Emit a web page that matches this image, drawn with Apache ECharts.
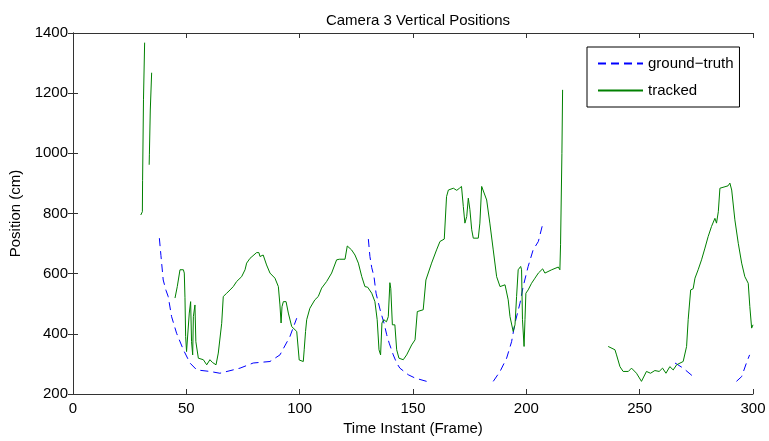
<!DOCTYPE html>
<html>
<head>
<meta charset="utf-8">
<title>Camera 3 Vertical Positions</title>
<script src="https://cdn.jsdelivr.net/npm/echarts@6/dist/echarts.min.js"></script>
<style>
  html, body { margin: 0; padding: 0; background: #fff; }
  #chart { width: 769px; height: 441px; }
</style>
</head>
<body>
<div id="chart"></div>
<script>
// x ticks / y ticks
const xTicks = [0, 50, 100, 150, 200, 250, 300];
const yTicks = [200, 400, 600, 800, 1000, 1200, 1400];

// ground-truth pieces [frame, position]
const gt1 = [[38.1,718],[38.8,660],[39.8,579],[41,545],[42,524],[43.5,457],[45.7,402],[48.7,347],[51.6,303],[54.6,280],[60.4,275],[64.8,269],[73.7,286],[79.5,303],[86.9,308],[91.3,330],[95.7,391],[98.7,452]];
const gt2 = [[130.3,715],[131,657],[131.8,620],[132.8,590],[133.7,535],[134.5,510],[135.7,474],[137.2,436],[138.4,397],[139.5,369],[141.3,330],[142.8,303],[144.2,286],[147.9,264],[150.9,253],[156,242]];
const gt3 = [[185.4,242],[188.4,275],[191.3,319],[193.5,374],[195,436],[197.2,502],[198.6,557],[200.8,624],[203,679],[205.3,707],[207.4,770]];
const gt4 = [[265.6,303],[269.2,286],[274.4,253]];
const gt5 = [[292.7,242],[295,258],[297.1,303],[298.5,330]];

// tracked pieces [frame, position]
const trk1 = [[29.9,795],[30.6,806],[30.7,909],[31.0,912],[31.1,1180],[31.5,1182],[31.6,1368]];
const trk2 = [[33.6,962],[33.7,995],[34.1,998],[34.1,1144],[34.6,1146],[34.7,1268]];
const trk3 = [[45,519],[46,557],[47.2,613],[48.7,613],[49.1,602],[49.4,520],[49.7,391],[50.1,341],[50.8,335],[51.3,469],[51.9,507],[52.3,374],[52.8,330],[53.1,457],[53.8,496],[54.2,374],[55.3,319],[57.5,314],[59,297],[60.4,314],[61.5,305],[63.1,297],[64.1,336],[65.6,435],[66.3,524],[67.8,535],[69.3,546],[70,540],[70.7,557],[72.2,574],[74.4,590],[75.9,613],[76.6,635],[78.1,651],[81,670],[82,670],[82.5,657],[83.9,662],[85.4,629],[86.9,602],[89.1,585],[90.6,557],[91.3,496],[91.8,436],[92.2,490],[92.8,507],[94,507],[95,469],[96.5,424],[98.7,408],[99.2,412],[99.8,313],[101.6,308],[102,347],[102.6,408],[103.1,447],[104.5,485],[106.7,513],[108.2,524],[109.7,552],[111.9,574],[114.1,602],[116.3,646],[117.5,648],[120,648],[121,692],[122.9,679],[124.4,662],[125.9,635],[127.4,590],[128.8,557],[130,555],[131.8,535],[133.2,507],[134.2,447],[135,347],[135.7,330],[136.3,436],[137.1,447],[138.3,440],[139.1,457],[139.8,570],[140.2,550],[140.9,430],[142,430],[142.8,347],[143.8,319],[145.7,314],[147.2,330],[149.4,363],[150.9,380],[151.9,474],[154.5,480],[155.7,579],[158.2,635],[160.4,679],[161.9,707],[163.8,715],[164.8,856],[165.6,878],[167.8,884],[169.3,877],[170.5,884],[171.4,890],[172.2,823],[172.9,768],[173.7,790],[174.4,851],[175.1,813],[175.9,746],[176.6,718],[178.8,718],[179.5,768],[180.3,890],[181,895],[182.5,845],[183.9,768],[185.4,679],[186.9,590],[188.4,557],[190.6,563],[191.3,557],[192,513],[192.8,457],[194.2,408],[195,430],[195.7,524],[196.4,613],[197.5,624],[197.9,613],[198.3,447],[199,358],[199.4,447],[199.8,535],[200.8,546],[202.3,568],[203.8,585],[205.3,602],[207.2,616],[208.2,602],[209,596],[211.2,613],[214.1,622],[214.8,613],[215.1,696],[215.7,1000],[216,1211]];
const trk4 = [[236.1,358],[239.1,347],[239.8,330],[241.3,291],[242.7,275],[245,275],[246.4,286],[248.6,269],[250.8,242],[253,275],[254.8,269],[256.7,278],[258.6,275],[260.1,286],[261.6,269],[263.3,291],[264.8,280],[266.3,297],[269.2,308],[270.7,358],[271.4,447],[272.5,546],[273.6,550],[274.4,585],[275.8,613],[277.3,646],[278.8,685],[280.2,723],[281.7,757],[283.2,784],[283.9,768],[284.7,806],[285.4,884],[286.2,890],[289,892],[289.8,901],[290.6,878],[292,779],[293.5,701],[295,635],[296.4,590],[297.9,568],[298.6,491],[299.4,419],[300,430]];

const gtName = 'ground\u2212truth';
const trkName = 'tracked';
const gtPieces = [gt1, gt2, gt3, gt4, gt5];
const trkPieces = [trk1, trk2, trk3, trk4];

const font = 'Liberation Sans, Arial, Helvetica, sans-serif';
const fs = 15;
const chart = echarts.init(document.getElementById('chart'));

// 每一段单独一个 series，名字相同 -> 图例只出现一次
const series = [];
gtPieces.forEach(p => {
  series.push({
    name: gtName, type: 'line', data: p, symbol: 'none', animation: false,
    lineStyle: { color: '#0000ff', width: 1, type: [8, 5] },
    itemStyle: { color: '#0000ff' }
  });
});
trkPieces.forEach(p => {
  series.push({
    name: trkName, type: 'line', data: p, symbol: 'none', animation: false,
    lineStyle: { color: '#008000', width: 1 },
    itemStyle: { color: '#008000' }
  });
});

const axisCommon = {
  axisLine: { show: true, lineStyle: { color: '#333', width: 1 } },
  axisTick: { show: true, inside: true, length: 5, lineStyle: { color: '#333' } },
  splitLine: { show: false }
};

const option = {
  backgroundColor: '#fff',
  title: {
    text: 'Camera 3 Vertical Positions',
    left: 413, top: 8, textAlign: 'center',
    textStyle: { fontFamily: font, fontSize: fs, fontWeight: 'normal', color: '#000' }
  },
  legend: {
    orient: 'vertical', left: 587, top: 47,
    padding: [9, 6, 9, 10], itemGap: 12, itemWidth: 45, itemHeight: 14,
    borderColor: '#000', borderWidth: 1, backgroundColor: '#fff',
    itemStyle: { opacity: 0 },
    textStyle: { fontFamily: font, fontSize: fs, color: '#000' },
    data: [gtName, trkName]
  },
  grid: { left: 73, right: 16, top: 33, bottom: 47 },
  xAxis: [
    Object.assign({}, axisCommon, {
      type: 'value', position: 'bottom',
      min: xTicks[0], max: xTicks[xTicks.length - 1], interval: 50,
      name: 'Time Instant (Frame)', nameLocation: 'middle', nameGap: 25,
      nameTextStyle: { fontFamily: font, fontSize: fs, color: '#000' },
      axisLabel: { margin: 7, fontFamily: font, fontSize: fs, color: '#000' }
    }),
    Object.assign({}, axisCommon, {
      type: 'value', position: 'top',
      min: xTicks[0], max: xTicks[xTicks.length - 1], interval: 50,
      axisLabel: { show: false }
    })
  ],
  yAxis: [
    Object.assign({}, axisCommon, {
      type: 'value', position: 'left',
      min: yTicks[0], max: yTicks[yTicks.length - 1], interval: 200,
      name: 'Position (cm)', nameLocation: 'middle', nameGap: 47,
      nameTextStyle: { fontFamily: font, fontSize: fs, color: '#000' },
      axisLabel: { margin: 5, fontFamily: font, fontSize: fs, color: '#000', formatter: v => String(v) }
    }),
    Object.assign({}, axisCommon, {
      type: 'value', position: 'right',
      min: yTicks[0], max: yTicks[yTicks.length - 1], interval: 200,
      axisLabel: { show: false }
    })
  ],
  series: series
};

chart.setOption(option);
</script>
</body>
</html>
